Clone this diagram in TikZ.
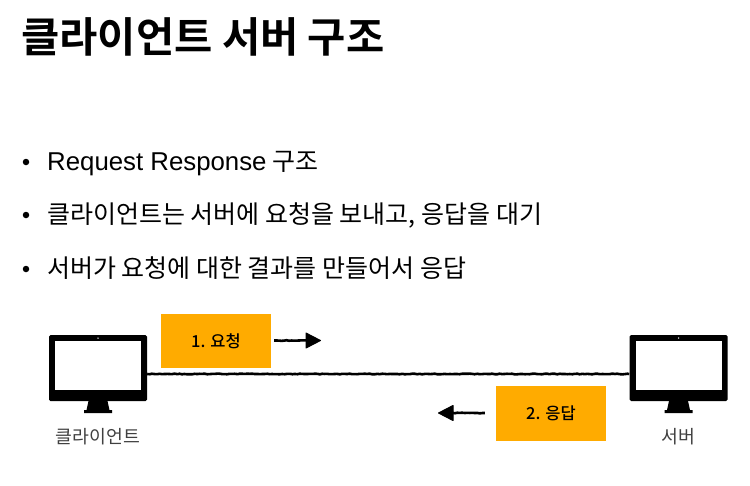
\documentclass[tikz,border=0pt]{standalone}
\usepackage{fontspec}
\setmainfont{Liberation Sans}
\newfontfamily\kofont{Noto Sans CJK KR}
\newfontfamily\kobold{Noto Sans CJK KR Bold}
\newfontfamily\komed{Noto Sans CJK KR Medium}
\usetikzlibrary{arrows.meta,decorations.pathmorphing}
\definecolor{boxorange}{HTML}{FFAB00}
\definecolor{labelgray}{HTML}{404040}
\tikzset{
  x=1pt,y=-1pt,
  titletext/.style={anchor=base west,inner sep=0pt,font=\kobold\fontsize{41.6}{46}\selectfont},
  bullettext/.style={anchor=base west,inner sep=0pt,font=\kofont\fontsize{25}{28}\selectfont},
  dotmark/.style={circle,fill=black,inner sep=0pt,minimum size=6.5pt},
  msgbox/.style={fill=boxorange,minimum width=110pt,minimum height=54.5pt,inner sep=0pt,font=\komed\fontsize{16.5}{18}\selectfont},
  body/.style={fill=black,rounded corners=1.5pt,minimum width=98pt,minimum height=66pt,inner sep=0pt},
  screen/.style={fill=white,minimum width=86pt,minimum height=49pt,inner sep=0pt},
  cam/.style={circle,fill=white,inner sep=0pt,minimum size=1.5pt},
  devlabel/.style={inner sep=0pt,text=labelgray,font=\kofont\fontsize{18.3}{22}\selectfont},
  sketch/.style={draw=black,line width=2.6pt,decorate,decoration={random steps,segment length=2.5pt,amplitude=0.35pt}},
  flow/.style={draw=black,line width=2.6pt,decorate,decoration={random steps,segment length=2.5pt,amplitude=0.35pt}},
  flowhead/.style={fill=black,draw=black,line width=1pt,line join=round}
}
\begin{document}
\begin{tikzpicture}
\useasboundingbox (0,0) rectangle (750,485);
\node[titletext] (title) at (21,52) {클라이언트 서버 구조};
\foreach \n/\yy in {a/162,b/215,c/269}{\node[dotmark] (dot\n) at (26,\yy) {};}
\node[bullettext] (b1) at (47,170) {{\rmfamily\fontsize{25.8}{28}\selectfont Request Response} 구조};
\node[bullettext] (b2) at (47,223) {클라이언트는 서버에 요청을 보내고, 응답을 대기};
\node[bullettext] (b3) at (47,277) {서버가 요청에 대한 결과를 만들어서 응답};

% client monitor
\node[body] (client) at (98,368) {};
\node[screen] at (98,365.5) {};
\node[cam] at (98,338) {};
\fill[black] (88.5,401) -- (107.5,401) -- (109.5,410) -- (112,410) -- (112,413) -- (84,413) -- (84,410) -- (86.5,410) -- cycle;
\node[devlabel] (clientlabel) at (98,437) {클라이언트};

% server monitor
\node[body] (server) at (678.5,368) {};
\node[screen] at (678.5,365.5) {};
\node[cam] at (678.5,338) {};
\fill[black] (669,401) -- (688,401) -- (690,410) -- (692.5,410) -- (692.5,413) -- (664.5,413) -- (664.5,410) -- (667,410) -- cycle;
\node[devlabel] (serverlabel) at (678,437) {서버};

\path[sketch] (client.east |- 0,374) -- (server.west |- 0,374);

\node[msgbox] (req) at (216,341) {1. 요청};
\node[msgbox] (res) at (551,413.5) {2. 응답};

\coordinate (reqend) at (308,340.5);
\coordinate (resend) at (451,413);
\path[flow] (req.east |- reqend) ++(3,0) -- (reqend);
\path[flow] (res.west |- resend) ++(-11,0) -- (resend);
\filldraw[flowhead] (306,333) -- (320.5,340.5) -- (306,348) -- cycle;
\filldraw[flowhead] (453,405.5) -- (438.5,413) -- (453,420.5) -- cycle;
\end{tikzpicture}
\end{document}
